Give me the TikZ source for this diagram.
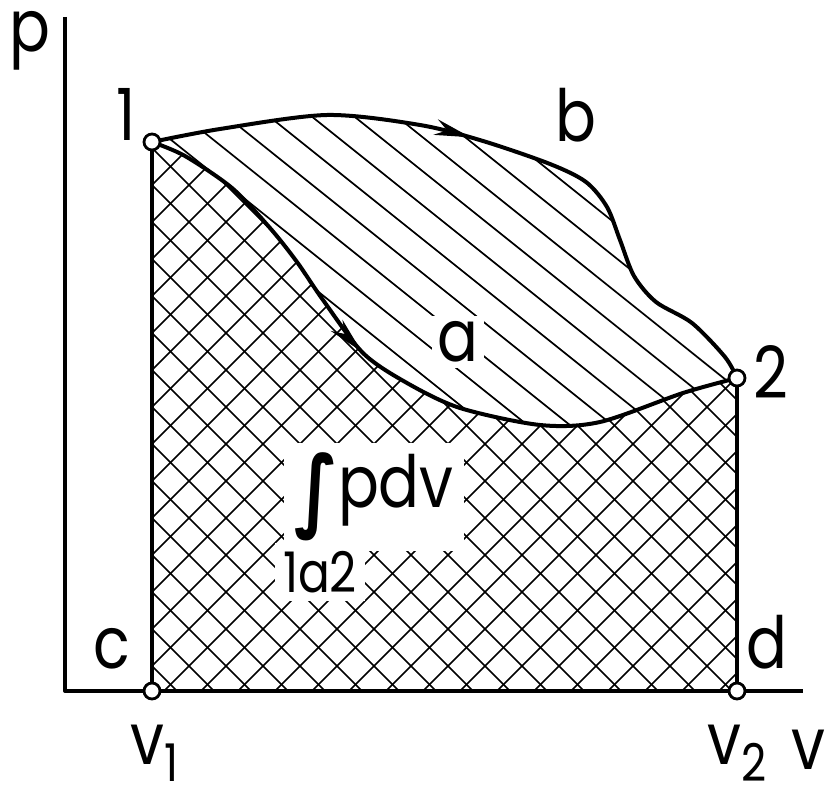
\documentclass[tikz,border=0pt]{standalone}
\usepackage{fontspec}
\setmainfont{Poppins}[FakeStretch=0.84]
\newfontfamily\symfont{DejaVu Sans}
\usetikzlibrary{arrows.meta,decorations.markings}
\newcommand{\lowsub}[1]{\raisebox{-0.24em}{\fontsize{26}{28}\selectfont #1}}

\tikzset{
  curve/.style={line width=2pt, line join=round},
  hatch/.style={line width=0.85pt},
  dot/.style={circle, draw, fill=white, line width=1.4pt, minimum size=8pt, inner sep=0pt},
  lbl/.style={font=\fontsize{36}{40}\selectfont, inner sep=0pt},
  midarrow/.style={postaction={decorate}, decoration={markings,
      mark=at position #1 with {\arrow{Stealth[length=18pt,width=8pt]}}}},
}

\begin{document}
\begin{tikzpicture}[x=0.5pt, y=-0.5pt]
  \useasboundingbox (0,0) rectangle (826,802);
  % state points and axes
  \coordinate (p1) at (152,142);
  \coordinate (p2) at (737,378);
  \coordinate (c) at (152,691);
  \coordinate (d) at (737,691);
  \coordinate (o) at (65,691);
  \coordinate (ptop) at (65,17);
  \coordinate (vend) at (803,691);

  % single hatching below path b
  \begin{scope}
    \clip plot[smooth] coordinates {(p1) (220,129) (327,115) (420,125) (483,141) (550,164)
      (586,182) (607,207) (620,240) (634,276) (656,302) (692,323) (725,357) (p2)} -- (d) -- (c) -- cycle;
    \foreach \y in {-473,-439,...,445}
      \draw[hatch] (0,\y) -- ++(826,661);
  \end{scope}

  % cross hatching below path a
  \begin{scope}
    \clip plot[smooth] coordinates {(p1) (185,156) (232,188) (270,228) (297,262) (323,300)
      (363,353) (407,383) (460,408) (540,425) (600,422) (683,393) (p2)} -- (d) -- (c) -- cycle;
    \fill[white] (0,0) rectangle (826,802);
    \foreach \y in {-596,-559,...,551}
      \draw[hatch] (0,\y) -- ++(900,900);
    \foreach \y in {263,300,...,1448}
      \draw[hatch] (0,\y) -- ++(900,-900);
  \end{scope}

  % paths 1b2 and 1a2
  \draw[curve, midarrow=0.46] plot[smooth] coordinates {(p1) (220,129) (327,115) (420,125)
    (483,141) (550,164) (586,182) (607,207) (620,240) (634,276) (656,302) (692,323) (725,357) (p2)};
  \draw[curve, midarrow=0.43] plot[smooth] coordinates {(p1) (185,156) (232,188) (270,228)
    (297,262) (323,300) (363,353) (407,383) (460,408) (540,425) (600,422) (683,393) (p2)};
  \draw[curve] (p1) -- (c);
  \draw[curve] (p2) -- (d);
  \draw[curve] (ptop) -- (o) -- (vend);

  \node[dot] (n1) at (p1) {};
  \node[dot] (n2) at (p2) {};
  \node[dot] (nc) at (c) {};
  \node[dot] (nd) at (d) {};

  % labels
  \node[lbl] (lp) at (30,41) {p};
  \node[lbl] (l1) at (126,114) {1};
  \node[lbl] (l2) at (771,372) {2};
  \node[lbl] (lb) at (576,115) {b};
  \node[lbl, fill=white, inner sep=3pt] (la) at (458,342) {a};
  \node[lbl] (lc) at (112,649) {c};
  \node[lbl] (ld) at (767,642) {d};
  \node[lbl, anchor=base west] (lv1) at (130,764) {v\lowsub{1}};
  \node[lbl, anchor=base west] (lv2) at (707,764) {v\lowsub{2}};
  \node[lbl] (lv) at (808,750) {v};
  \node[lbl, fill=white, inner sep=5pt] (lint) at (374,497)
    {\raisebox{-0.18em}{\scalebox{1}[1.25]{\symfont\bfseries ∫}}pdv};
  \node[lbl, font=\fontsize{28}{30}\selectfont, fill=white, inner sep=4pt] (lsub) at (320,572) {1a2};
\end{tikzpicture}
\end{document}
